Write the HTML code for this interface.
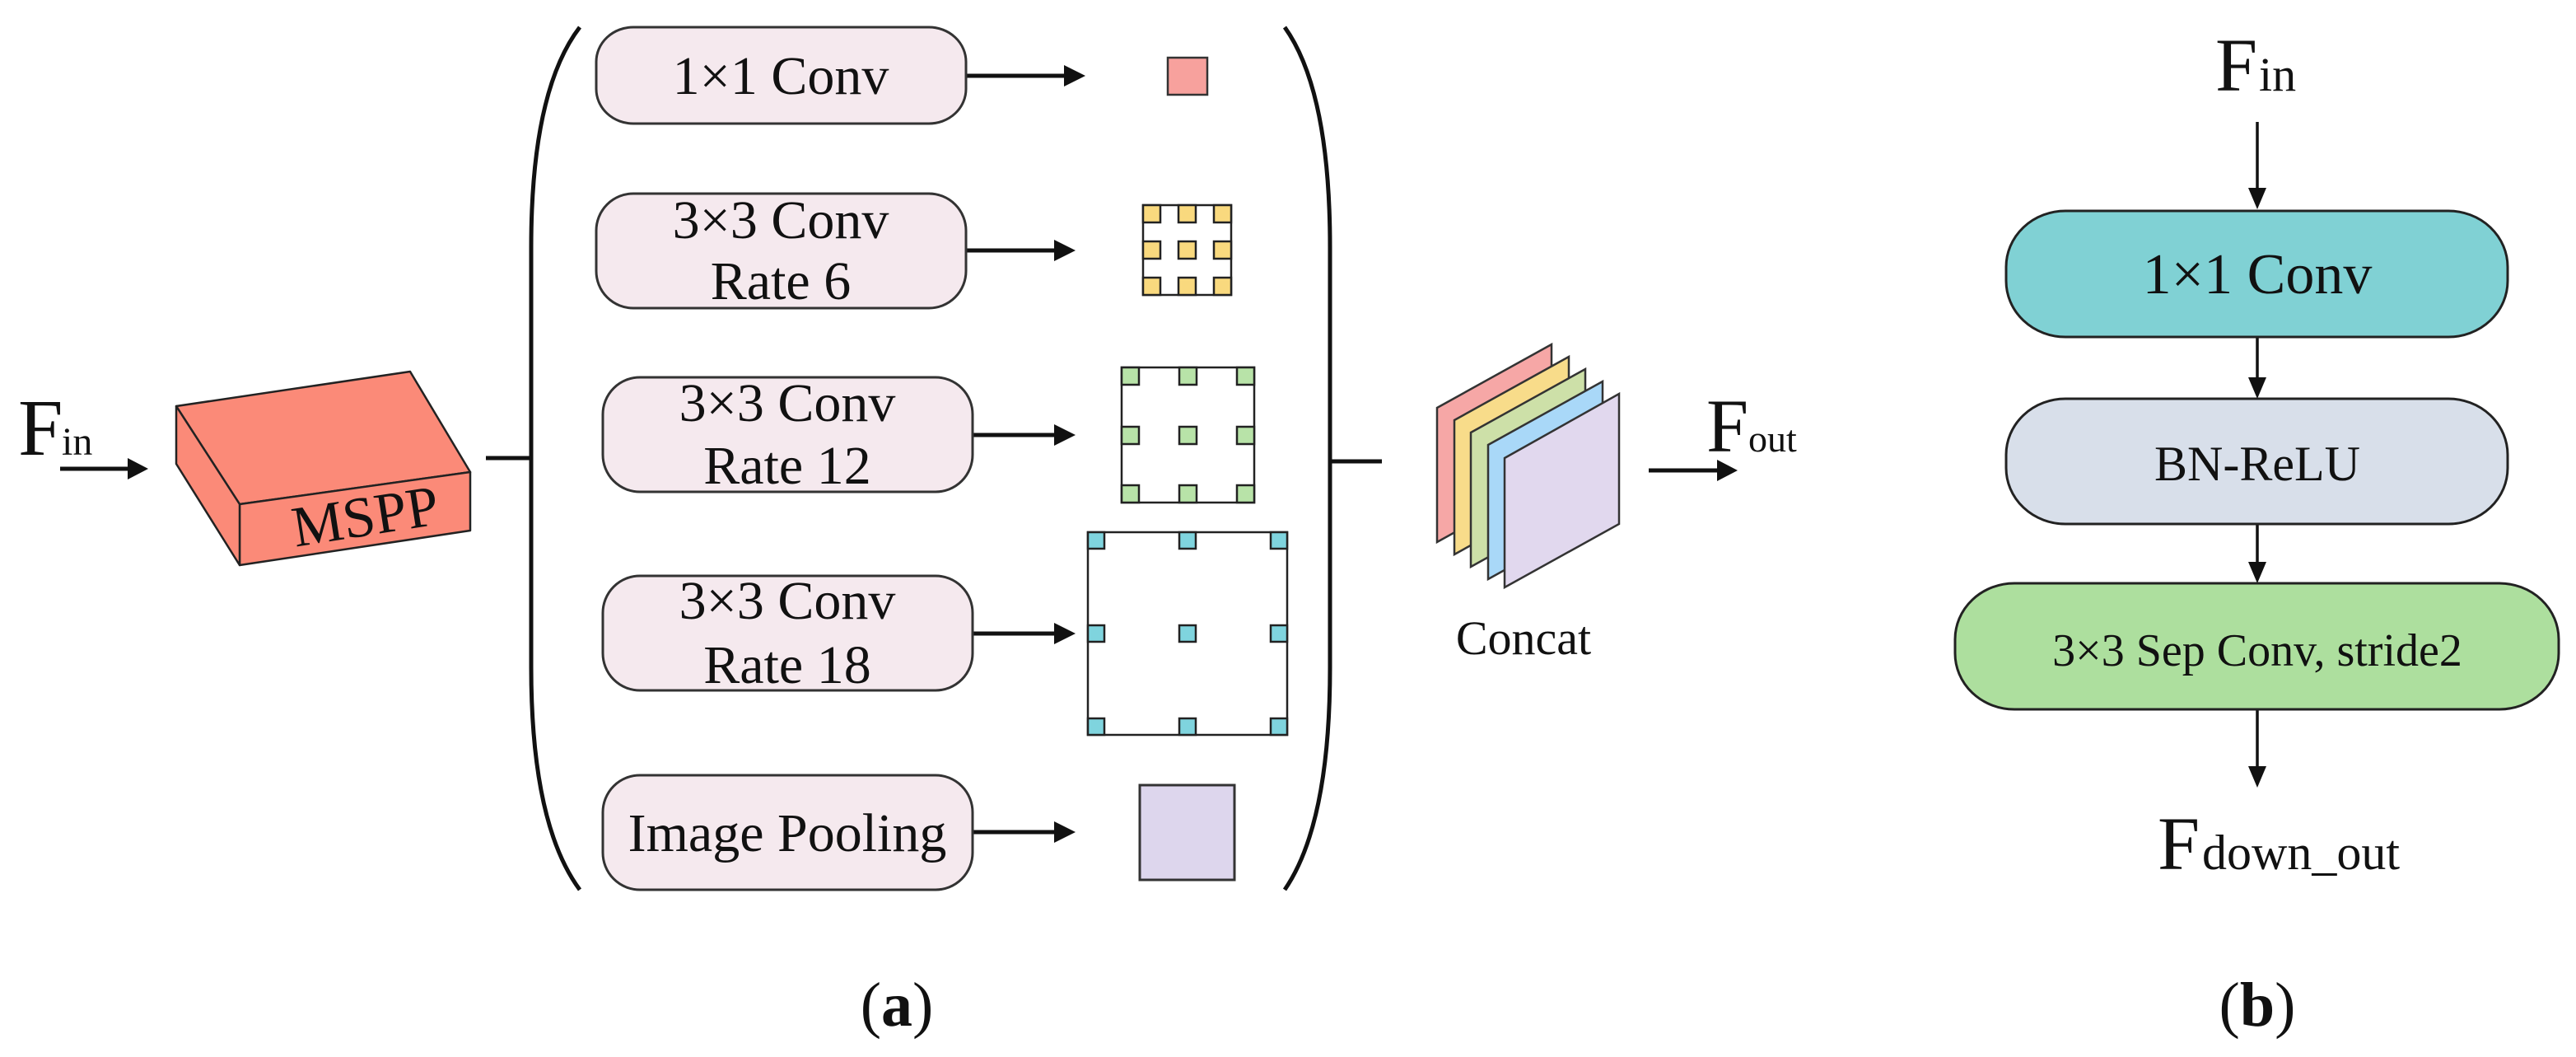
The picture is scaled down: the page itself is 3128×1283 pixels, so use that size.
<!DOCTYPE html>
<html><head><meta charset="utf-8"><style>
html,body{margin:0;padding:0;background:#fff;}
svg{display:block;}
text{font-family:"Liberation Serif",serif;fill:#111;}
</style></head><body>
<svg width="3128" height="1283" viewBox="0 0 3128 1283" xmlns="http://www.w3.org/2000/svg">
<defs>
<marker id="ah" markerWidth="10" markerHeight="10" refX="9" refY="5" orient="auto" markerUnits="userSpaceOnUse" viewBox="0 0 10 10">
</marker>
</defs>
<g stroke="#111" stroke-width="5" fill="#111">
<!-- Fin arrow -->
<line x1="73" y1="569" x2="160" y2="569"/><polygon points="180,569 155,556 155,582" stroke="none"/>
<!-- line to paren -->
<line x1="590" y1="556" x2="645" y2="556"/>
<line x1="1615" y1="560" x2="1678" y2="560"/>
<!-- branch arrows -->
<line x1="1173" y1="92" x2="1295" y2="92"/><polygon points="1318,92 1292,79 1292,105" stroke="none"/>
<line x1="1173" y1="304" x2="1283" y2="304"/><polygon points="1306,304 1280,291 1280,317" stroke="none"/>
<line x1="1181" y1="528" x2="1283" y2="528"/><polygon points="1306,528 1280,515 1280,541" stroke="none"/>
<line x1="1181" y1="769" x2="1283" y2="769"/><polygon points="1306,769 1280,756 1280,782" stroke="none"/>
<line x1="1181" y1="1010" x2="1283" y2="1010"/><polygon points="1306,1010 1280,997 1280,1023" stroke="none"/>
<!-- Fout arrow -->
<line x1="2002" y1="571" x2="2090" y2="571"/><polygon points="2110,571 2085,558 2085,584" stroke="none"/>
</g>
<!-- parens -->
<path d="M704,33 Q645,110 645,300 L645,810 Q645,1000 704,1080" fill="none" stroke="#111" stroke-width="5"/>
<path d="M1560,33 Q1615,110 1615,300 L1615,810 Q1615,1000 1560,1080" fill="none" stroke="#111" stroke-width="5"/>
<!-- MSPP -->
<g stroke="#222" stroke-width="2.5" stroke-linejoin="round">
<polygon points="214,493 498,451 571,573 291,612" fill="#fb8a78"/>
<polygon points="291,612 571,573 571,644 291,686" fill="#fb8a78"/>
<polygon points="214,493 291,612 291,686 214,563" fill="#fb8a78"/>
</g>
<text x="444" y="650" font-size="70" text-anchor="middle" transform="rotate(-9 444 630)">MSPP</text>
<!-- Fin left -->
<text x="22" y="552" font-size="98">F</text><text x="75" y="552" font-size="48">in</text>
<!-- boxes -->
<g fill="#f5e9ee" stroke="#333" stroke-width="3">
<rect x="724" y="33" width="449" height="117" rx="45" ry="42"/>
<rect x="724" y="235" width="449" height="139" rx="45" ry="45"/>
<rect x="732" y="458" width="449" height="139" rx="45" ry="45"/>
<rect x="732" y="699" width="449" height="139" rx="45" ry="45"/>
<rect x="732" y="941" width="449" height="139" rx="45" ry="45"/>
</g>
<g font-size="66" text-anchor="middle">
<text x="948" y="114">1×1 Conv</text>
<text x="948" y="289">3×3 Conv</text><text x="948" y="363">Rate 6</text>
<text x="956" y="511">3×3 Conv</text><text x="956" y="587">Rate 12</text>
<text x="956" y="751">3×3 Conv</text><text x="956" y="829">Rate 18</text>
<text x="956" y="1033">Image Pooling</text>
</g>
<!-- feature squares -->
<rect x="1418" y="70" width="48" height="45" fill="#f7a19d" stroke="#333" stroke-width="2.5"/>
<g stroke="#222" stroke-width="2.5">
<rect x="1388" y="249" width="107" height="109" fill="none"/>
<g fill="#f9d97e">
<rect x="1388" y="249" width="21" height="21"/><rect x="1431" y="249" width="21" height="21"/><rect x="1474" y="249" width="21" height="21"/>
<rect x="1388" y="293" width="21" height="21"/><rect x="1431" y="293" width="21" height="21"/><rect x="1474" y="293" width="21" height="21"/>
<rect x="1388" y="337" width="21" height="21"/><rect x="1431" y="337" width="21" height="21"/><rect x="1474" y="337" width="21" height="21"/>
</g>
<rect x="1362" y="446" width="161" height="164" fill="none"/>
<g fill="#b8e3a8">
<rect x="1362" y="446" width="21" height="21"/><rect x="1432" y="446" width="21" height="21"/><rect x="1502" y="446" width="21" height="21"/>
<rect x="1362" y="518" width="21" height="21"/><rect x="1432" y="518" width="21" height="21"/><rect x="1502" y="518" width="21" height="21"/>
<rect x="1362" y="589" width="21" height="21"/><rect x="1432" y="589" width="21" height="21"/><rect x="1502" y="589" width="21" height="21"/>
</g>
<rect x="1321" y="646" width="242" height="246" fill="none"/>
<g fill="#7fd4de">
<rect x="1321" y="646" width="20" height="20"/><rect x="1432" y="646" width="20" height="20"/><rect x="1543" y="646" width="20" height="20"/>
<rect x="1321" y="759" width="20" height="20"/><rect x="1432" y="759" width="20" height="20"/><rect x="1543" y="759" width="20" height="20"/>
<rect x="1321" y="872" width="20" height="20"/><rect x="1432" y="872" width="20" height="20"/><rect x="1543" y="872" width="20" height="20"/>
</g>
</g>
<rect x="1384" y="953" width="115" height="115" fill="#ddd6ed" stroke="#333" stroke-width="3"/>
<text x="1089" y="1245" font-size="76" text-anchor="middle">(<tspan font-weight="bold">a</tspan>)</text>
<!-- concat sheets -->
<g stroke="#333" stroke-width="2.5">
<polygon points="1745,495 1884,418 1884,581 1745,658" fill="#f6a7a6"/>
<polygon points="1766,510 1905,433 1905,596 1766,673" fill="#f8dc8a"/>
<polygon points="1786,525 1925,448 1925,611 1786,688" fill="#cde0a8"/>
<polygon points="1807,540 1946,463 1946,626 1807,703" fill="#a9d8f8"/>
<polygon points="1827,556 1966,478 1966,636 1827,713" fill="#e1d8ee"/>
</g>
<text x="1850" y="794" font-size="58" text-anchor="middle">Concat</text>
<text x="2072" y="548" font-size="92">F</text><text x="2123" y="548" font-size="46">out</text>
<!-- right panel -->
<text x="2690" y="110" font-size="92">F</text><text x="2743" y="110" font-size="58">in</text>
<g stroke="#111" stroke-width="3.5" fill="#111">
<line x1="2741" y1="148" x2="2741" y2="232"/><polygon points="2741,254 2730,228 2752,228" stroke="none"/>
<line x1="2741" y1="409" x2="2741" y2="462"/><polygon points="2741,484 2730,458 2752,458" stroke="none"/>
<line x1="2741" y1="636" x2="2741" y2="686"/><polygon points="2741,708 2730,682 2752,682" stroke="none"/>
<line x1="2741" y1="861" x2="2741" y2="934"/><polygon points="2741,956 2730,930 2752,930" stroke="none"/>
</g>
<g stroke="#222" stroke-width="3">
<rect x="2436" y="256" width="609" height="153" rx="72" ry="68" fill="#80d1d4"/>
<rect x="2436" y="484" width="609" height="152" rx="72" ry="68" fill="#d8dfea"/>
<rect x="2374" y="708" width="733" height="153" rx="72" ry="68" fill="#addf9e"/>
</g>
<text x="2741" y="356" font-size="70" text-anchor="middle">1×1 Conv</text>
<text x="2741" y="583" font-size="60" text-anchor="middle">BN-ReLU</text>
<text x="2741" y="808" font-size="56" text-anchor="middle">3×3 Sep Conv, stride2</text>
<text x="2620" y="1055" font-size="92">F</text><text x="2674" y="1055" font-size="60">down_out</text>
<text x="2741" y="1245" font-size="76" text-anchor="middle">(<tspan font-weight="bold">b</tspan>)</text>
</svg>
</body></html>
